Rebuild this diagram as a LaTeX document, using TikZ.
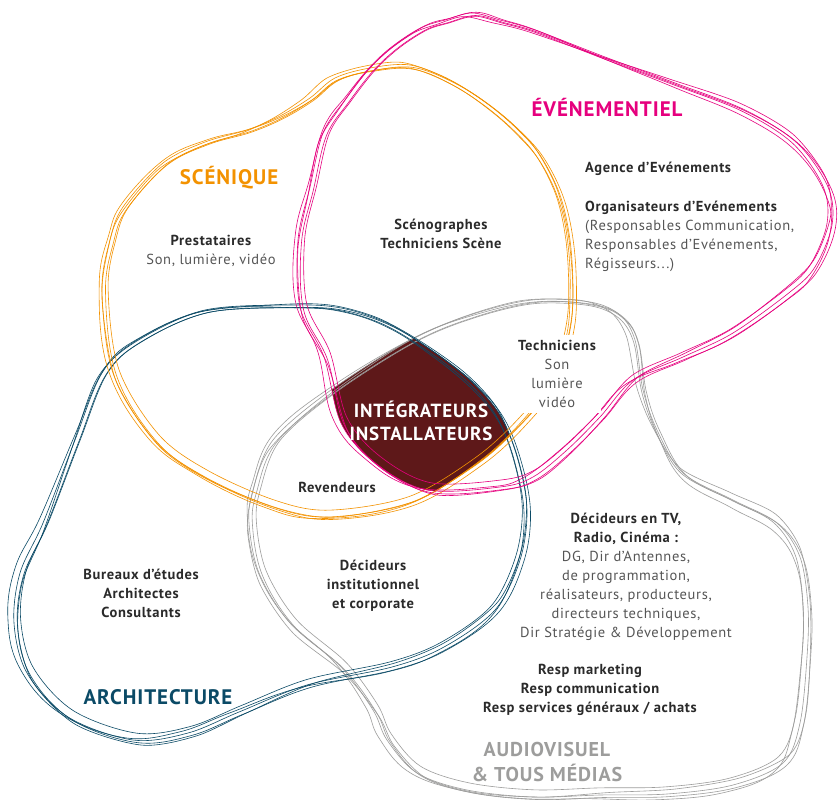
\documentclass[tikz,border=0pt]{standalone}
\usepackage{fontspec}
\setmainfont{PT Sans}[LetterSpace=4.5]
\definecolor{orng}{HTML}{F39200}
\definecolor{pnk}{HTML}{E6007E}
\definecolor{dblue}{HTML}{0B4A66}
\definecolor{gry}{HTML}{9D9D9C}
\definecolor{dred}{HTML}{5E1819}
\definecolor{txtb}{HTML}{2A2A2A}
\definecolor{txtr}{HTML}{555555}
\newcommand\OrPath[1]{plot[smooth cycle, tension=#1] coordinates {(370,68) (410,65) (450,80) (485,102) (515,127) (540,155) (560,195) (570,240) (573,290) (570,330) (555,380) (522,423) (478,463) (410,503) (328,517) (273,507) (205,477) (154,440) (113,373) (102,290) (110,240) (123,207) (163,163) (205,142) (247,130) (280,116) (310,98) (335,78)}}
\newcommand\PkPath[1]{plot[smooth cycle, tension=#1] coordinates {(423,27) (445,20) (472,13) (500,20) (535,30) (605,57) (675,83) (745,110) (797,143) (828,187) (832,225) (815,267) (790,292) (733,333) (683,357) (633,380) (600,417) (567,450) (533,477) (500,487) (427,490) (375,463) (341,423) (324,357) (300,307) (298,240) (310,187) (323,133) (345,100) (370,68) (395,45)}}
\newcommand\GrPath[1]{plot[smooth cycle, tension=#1] coordinates {(532,300) (590,302) (620,315) (635,340) (643,390) (657,430) (683,473) (733,500) (777,523) (800,557) (808,607) (807,657) (800,723) (783,763) (733,785) (667,794) (600,795) (533,797) (467,790) (417,773) (387,740) (373,710) (341,667) (290,623) (259,573) (249,523) (253,490) (273,440) (331,390) (410,340) (470,315)}}
\newcommand\BlPath[1]{plot[smooth cycle, tension=#1] coordinates {(341,308) (294,305) (205,310) (137,340) (102,373) (75,440) (43,523) (20,573) (14,623) (27,673) (68,717) (133,740) (188,733) (239,712) (307,685) (392,667) (444,647) (495,610) (520,560) (527,510) (518,460) (500,415) (470,380) (427,347) (385,322)}}
\newcommand\strands[3]{%
  \draw[#1] #2{0.55};
  \draw[#1, shift={(3.5,2.5)}] #2{0.6};
  \draw[#1, rotate around={2.2:#3}] #2{0.5};
  \draw[#1, rotate around={-1.8:#3}, shift={(-3,2)}] #2{0.65};
  \draw[#1, scale around={0.978:#3}, shift={(1,-2)}] #2{0.55};
}
\newcommand\bl[1]{{\bfseries\color{txtb}#1}}
\tikzset{
  strand/.style={line width=0.6pt},
  lbl/.style={align=center, inner sep=0pt, text=txtr, font=\fontsize{14.5}{19}\selectfont},
  ttl/.style={inner sep=0pt, font=\bfseries\fontsize{21}{25}\selectfont},
}
\begin{document}
\begin{tikzpicture}[x=1pt,y=-1pt]
\useasboundingbox[fill=white] (0,0) rectangle (839,800);
% central intersection
\begin{scope}
  \clip \OrPath{0.55}; \clip \PkPath{0.55}; \clip \BlPath{0.55}; \clip \GrPath{0.55};
  \fill[dred] (0,0) rectangle (839,800);
\end{scope}
% blobs
\strands{strand, gry}{\GrPath}{(540,560)}
\strands{strand, dblue}{\BlPath}{(270,520)}
\strands{strand, orng}{\OrPath}{(335,295)}
\strands{strand, pnk}{\PkPath}{(560,250)}
% titles
\node[ttl, text=orng] (scen) at (229,178) {SCÉNIQUE};
\node[ttl, text=pnk] (even) at (607,107) {ÉVÉNEMENTIEL};
\node[ttl, text=dblue] (arch) at (158,697) {ARCHITECTURE};
\node[ttl, text=gry, align=center, font=\bfseries\fontsize{20}{25}\selectfont] (audio) at (547,762) {AUDIOVISUEL\\\& TOUS MÉDIAS};
% labels
\node[lbl] (prest) at (211,250.5) {\bl{Prestataires}\\Son, lumière, vidéo};
\node[lbl] (sceno) at (441,233.5) {\bl{Scénographes}\\\bl{Techniciens Scène}};
\node[lbl, align=left, anchor=west] (agence) at (585,216.5) {\bl{Agence d'Evénements}\\[20pt]\bl{Organisateurs d'Evénements}\\(Responsables Communication,\\Responsables d'Evénements,\\Régisseurs...)};
\node[lbl, fill=white, inner sep=5pt] (tech) at (557,374) {\bl{Techniciens}\\Son\\lumière\\vidéo};
\node[align=center, inner sep=0pt, text=white, font=\bfseries\fontsize{19}{23}\selectfont] (integ) at (421,421) {INTÉGRATEURS\\INSTALLATEURS};
\node[lbl] (revend) at (337,487) {\bl{Revendeurs}};
\node[lbl] (tv) at (626,576.5) {\bl{Décideurs en TV,}\\\bl{Radio, Cinéma :}\\DG, Dir d'Antennes,\\de programmation,\\réalisateurs, producteurs,\\directeurs techniques,\\Dir Stratégie \& Développement};
\node[lbl] (bureaux) at (141,593.5) {\bl{Bureaux d'études}\\\bl{Architectes}\\\bl{Consultants}};
\node[lbl] (inst) at (373,586) {\bl{Décideurs}\\\bl{institutionnel}\\\bl{et corporate}};
\node[lbl] (resp) at (590,690) {\bl{Resp marketing}\\\bl{Resp communication}\\\bl{Resp services généraux / achats}};
\end{tikzpicture}
\end{document}
